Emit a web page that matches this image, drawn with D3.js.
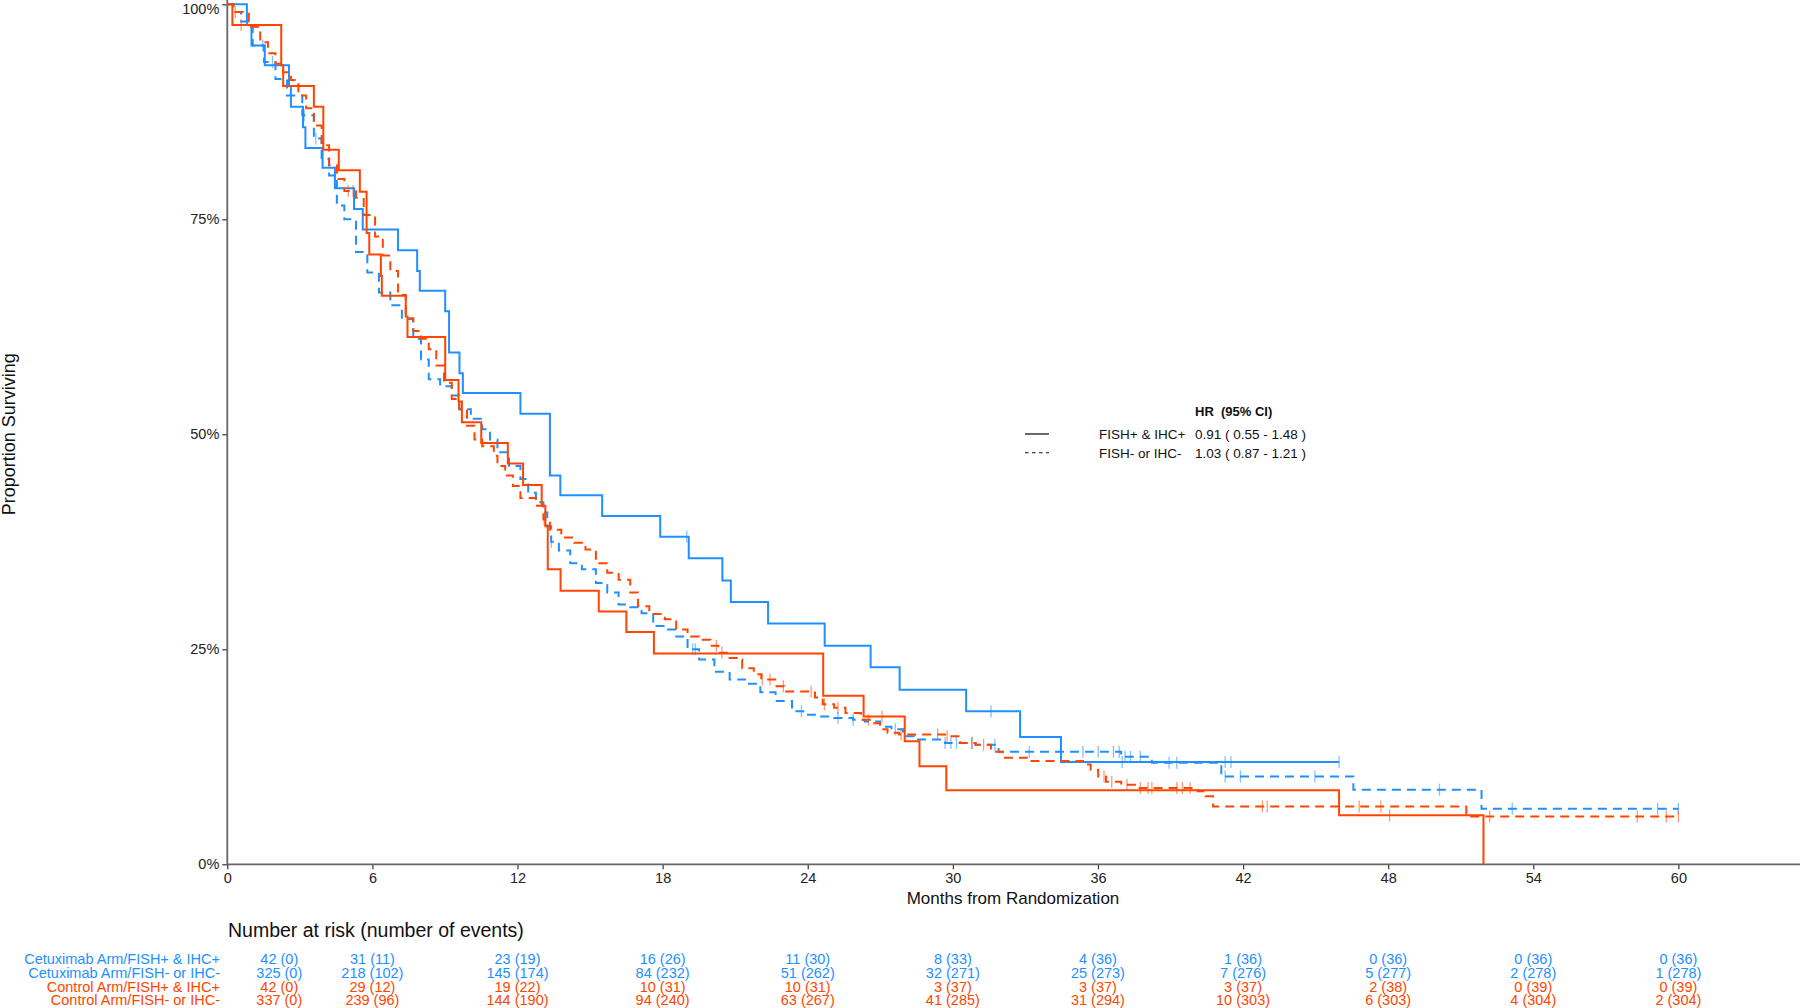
<!DOCTYPE html>
<html><head><meta charset="utf-8">
<script src="https://cdn.jsdelivr.net/npm/d3@7"></script>
<style>
html,body{margin:0;padding:0;background:#fff;}
svg text{font-family:"Liberation Sans",Arial,Helvetica,sans-serif;}
</style></head><body>
<svg id="chart" width="1800" height="1008"></svg>
<script>
// ---------- data ----------
const monthTicks = [0, 6, 12, 18, 24, 30, 36, 42, 48, 54, 60];
const survTicks = [0, 0.25, 0.5, 0.75, 1];
const groupLabels = ["Cetuximab Arm/FISH+ & IHC+", "Cetuximab Arm/FISH- or IHC-", "Control Arm/FISH+ & IHC+", "Control Arm/FISH- or IHC-"];
const legendLabels = ["FISH+ & IHC+", "FISH- or IHC-"];
const legendHR = ["0.91 ( 0.55 - 1.48 )", "1.03 ( 0.87 - 1.21 )"];
const legendTitle = "HR  (95% CI)";

// Cetuximab Arm / FISH+ & IHC+
const cetuxPosTime = [0, 0.81, 1.00, 1.55, 2.55, 2.63, 3.13, 3.23, 3.94, 4.45, 5.24, 5.60, 7.06, 7.85, 7.96, 9.01, 9.17, 9.6, 9.74, 12.12, 13.34, 13.77, 15.5, 17.9, 19.08, 20.47, 20.82, 22.36, 24.7, 26.6, 27.8, 30.55, 32.78, 34.47, 45.97];
const cetuxPosSurv = [1, .976, .952, .929, .905, .881, .857, .833, .810, .786, .762, .738, .714, .690, .667, .643, .595, .571, .548, .524, .452, .429, .405, .381, .356, .330, .305, .280, .254, .229, .203, .178, .148, .119, .119];
const cetuxPosCensor = [19.0, 31.58, 37.0, 41.26, 41.5, 45.97];

// Cetuximab Arm / FISH- or IHC-
const cetuxNegTime = [0, 0.25, 0.57, 1.05, 1.52, 1.99, 2.47, 3.10, 3.58, 3.90, 4.21, 4.53, 4.84, 5.32, 5.79, 6.27, 6.74, 7.22, 7.69, 8.01, 8.33, 8.80, 9.28, 9.59, 10.07, 10.54, 10.86, 11.17, 11.65, 12.12, 12.44, 12.76, 13.07, 13.23, 13.39, 13.71, 14.18, 14.66, 15.24, 15.71, 16.18, 16.66, 17.13, 17.61, 18.09, 18.56, 19.03, 19.51, 20.14, 20.77, 21.41, 22.04, 22.67, 23.35, 23.82, 24.30, 25.09, 25.88, 26.36, 26.99, 27.46, 27.94, 28.41, 29.68, 30.94, 31.89, 36.96, 38.23, 41.1, 46.56, 51.86, 60.0];
const cetuxNegSurv = [1, .991, .980, .952, .933, .913, .894, .871, .844, .820, .801, .766, .750, .712, .688, .665, .650, .634, .611, .587, .564, .556, .545, .529, .518, .506, .494, .479, .463, .448, .432, .421, .409, .393, .375, .365, .350, .343, .327, .316, .302, .299, .292, .277, .273, .265, .250, .238, .224, .215, .210, .200, .190, .178, .174, .172, .170, .168, .166, .160, .157, .149, .145, .141, .139, .131, .125, .118, .102, .0867, .0646, .0646];
const cetuxNegCensor = [1.47, 1.87, 3.18, 3.66, 13.4, 19.24, 19.35, 23.74, 25.25, 25.88, 27.62, 29.68, 29.92, 30.15, 30.79, 31.74, 33.16, 35.38, 36.01, 36.64, 36.88, 37.12, 37.35, 37.75, 38.94, 39.26, 41.26, 41.89, 44.97, 50.12, 53.13, 59.14, 60.0];

// Control Arm / FISH+ & IHC+
const ctrlPosTime = [0, 0.21, 2.23, 2.31, 3.58, 3.97, 4.61, 5.48, 5.76, 5.87, 6.35, 6.39, 7.38, 7.45, 9.01, 9.56, 9.70, 10.50, 11.60, 12.23, 13.0, 13.15, 13.25, 13.78, 15.36, 16.5, 17.64, 24.64, 26.31, 28.01, 28.62, 29.73, 45.97, 51.94];
const ctrlPosSurv = [1, .976, .929, .905, .881, .831, .807, .782, .734, .709, .684, .661, .637, .613, .563, .538, .514, .490, .466, .441, .417, .393, .343, .318, .294, .270, .245, .196, .172, .143, .114, .086, .057, 0];
const ctrlPosCensor = [0.57, 27.07, 48.06];

// Control Arm / FISH- or IHC-
const ctrlNegTime = [0, 0.25, 0.89, 1.36, 1.68, 1.99, 2.31, 2.63, 2.94, 3.26, 3.58, 3.90, 4.21, 4.53, 4.84, 5.32, 5.64, 6.11, 6.43, 6.74, 7.06, 7.38, 7.69, 8.01, 8.33, 8.64, 8.96, 9.28, 9.59, 9.91, 10.22, 10.54, 11.02, 11.17, 11.49, 11.81, 12.12, 12.76, 13.07, 13.34, 13.81, 14.34, 14.81, 15.24, 15.71, 16.18, 16.66, 16.98, 17.45, 18.09, 18.56, 19.03, 19.51, 19.98, 20.30, 20.77, 21.13, 21.29, 21.77, 22.08, 22.71, 23.03, 24.30, 24.62, 25.09, 25.56, 26.20, 26.67, 26.99, 27.30, 27.78, 29.68, 30.31, 30.94, 31.58, 32.05, 33.16, 35.38, 35.70, 36.01, 36.33, 36.96, 37.59, 40.12, 40.44, 40.76, 51.23, 60.0];
const ctrlNegSurv = [1, .991, .974, .956, .943, .931, .921, .912, .894, .879, .859, .836, .813, .797, .783, .775, .755, .730, .708, .690, .662, .635, .620, .611, .599, .580, .560, .541, .529, .510, .494, .486, .475, .463, .452, .440, .426, .417, .401, .389, .380, .374, .366, .350, .339, .331, .316, .300, .291, .285, .273, .265, .261, .254, .246, .240, .238, .228, .221, .215, .207, .201, .194, .186, .182, .176, .168, .164, .157, .153, .151, .149, .141, .139, .131, .124, .120, .116, .110, .102, .096, .0926, .0887, .0848, .079, .0673, .0557, .0557];
const ctrlNegCensor = [0.33, 5.0, 5.2, 13.1, 20.22, 20.45, 22.12, 22.44, 22.99, 24.14, 24.69, 25.25, 26.51, 27.86, 29.37, 29.76, 30.79, 31.27, 36.25, 36.57, 37.20, 37.75, 38.07, 38.23, 39.26, 39.49, 39.81, 42.8, 43.0, 46.8, 47.7, 52.2, 58.3, 59.5, 60.0];

// Number at risk (number of events)
const cetuxPosAtRisk = [42, 31, 23, 16, 11, 8, 4, 1, 0, 0, 0];
const cetuxPosEvents = [0, 11, 19, 26, 30, 33, 36, 36, 36, 36, 36];
const cetuxNegAtRisk = [325, 218, 145, 84, 51, 32, 25, 7, 5, 2, 1];
const cetuxNegEvents = [0, 102, 174, 232, 262, 271, 273, 276, 277, 278, 278];
const ctrlPosAtRisk = [42, 29, 19, 10, 10, 3, 3, 3, 2, 0, 0];
const ctrlPosEvents = [0, 12, 22, 31, 31, 37, 37, 37, 38, 39, 39];
const ctrlNegAtRisk = [337, 239, 144, 94, 63, 41, 31, 10, 6, 4, 2];
const ctrlNegEvents = [0, 96, 190, 240, 267, 285, 294, 303, 303, 304, 304];

// ---------- drawing ----------
const BLUE = "#1E90FF", RED = "#FF4500";
const series = [
  {time: cetuxPosTime, surv: cetuxPosSurv, cens: cetuxPosCensor, color: BLUE, dash: null},
  {time: cetuxNegTime, surv: cetuxNegSurv, cens: cetuxNegCensor, color: BLUE, dash: "9,6"},
  {time: ctrlPosTime, surv: ctrlPosSurv, cens: ctrlPosCensor, color: RED, dash: null},
  {time: ctrlNegTime, surv: ctrlNegSurv, cens: ctrlNegCensor, color: RED, dash: "9,6"}
];
const riskRows = [
  {at: cetuxPosAtRisk, ev: cetuxPosEvents, color: BLUE},
  {at: cetuxNegAtRisk, ev: cetuxNegEvents, color: BLUE},
  {at: ctrlPosAtRisk, ev: ctrlPosEvents, color: RED},
  {at: ctrlNegAtRisk, ev: ctrlNegEvents, color: RED}
];

const svg = d3.select("#chart");
const x = d3.scaleLinear().domain([0, 60]).range([227.3, 1678.4]);
const y = d3.scaleLinear().domain([0, 1]).range([864.3, 4.3]);

// axes
const yAxis = svg.append("g").attr("transform", `translate(${x(0)},0)`)
  .call(d3.axisLeft(y).tickValues(survTicks).tickFormat(d3.format(".0%")).tickSize(5).tickSizeOuter(0).tickPadding(3));
yAxis.select(".domain").remove();
yAxis.selectAll(".tick line").attr("stroke", "#333").attr("stroke-width", 1.2);
yAxis.selectAll("text").attr("font-size", 14.5).attr("fill", "#222")
  .attr("dy", d => d === 1 ? "0.66em" : "0.32em");
svg.append("line").attr("x1", x(0)).attr("x2", x(0)).attr("y1", 0).attr("y2", y(0))
  .attr("stroke", "#666").attr("stroke-width", 1.8);

const xAxis = svg.append("g").attr("transform", `translate(0,${y(0)})`)
  .call(d3.axisBottom(x).tickValues(monthTicks).tickSize(5).tickSizeOuter(0).tickPadding(3));
xAxis.select(".domain").remove();
xAxis.selectAll(".tick line").attr("stroke", "#333").attr("stroke-width", 1.2);
xAxis.selectAll("text").attr("font-size", 14.5).attr("fill", "#222");
svg.append("line").attr("x1", x(0)).attr("x2", 1800).attr("y1", y(0)).attr("y2", y(0))
  .attr("stroke", "#666").attr("stroke-width", 1.8);

// axis titles
svg.append("text").attr("transform", `translate(15,${y(0.5)}) rotate(-90)`)
  .attr("text-anchor", "middle").attr("font-size", 18).attr("fill", "#111").text("Proportion Surviving");
svg.append("text").attr("x", 1013).attr("y", 904).attr("text-anchor", "middle")
  .attr("font-size", 17).attr("fill", "#111").text("Months from Randomization");

// curves
const line = d3.line().x(d => x(d[0])).y(d => y(d[1])).curve(d3.curveStepAfter);
series.forEach(s => {
  const pts = s.time.map((t, i) => [t, s.surv[i]]);
  svg.append("path").datum(pts).attr("d", line)
    .attr("fill", "none").attr("stroke", s.color).attr("stroke-width", 2)
    .attr("stroke-dasharray", s.dash);
  const bis = d3.bisector(d => d).right;
  svg.append("g").selectAll("line").data(s.cens).join("line")
    .attr("x1", d => x(d)).attr("x2", d => x(d))
    .attr("y1", d => y(s.surv[Math.max(0, bis(s.time, d) - 1)]) - 6)
    .attr("y2", d => y(s.surv[Math.max(0, bis(s.time, d) - 1)]) + 6)
    .attr("stroke", s.color).attr("stroke-opacity", 0.55).attr("stroke-width", 1.3);
});

// legend
const lg = svg.append("g");
lg.append("text").attr("x", 1195).attr("y", 416).attr("font-size", 13).attr("font-weight", "bold")
  .attr("fill", "#111").style("white-space", "pre").text(legendTitle);
legendLabels.forEach((lab, i) => {
  const yy = 434 + i * 18.7;
  lg.append("line").attr("x1", 1025).attr("x2", 1049).attr("y1", yy).attr("y2", yy)
    .attr("stroke", i === 0 ? "#444" : "#111").attr("stroke-width", i === 0 ? 1.6 : 1.1)
    .attr("stroke-dasharray", i === 0 ? null : "3.5,3.5");
  lg.append("text").attr("x", 1099).attr("y", yy + 4.8).attr("font-size", 13.5).attr("fill", "#111").text(lab);
  lg.append("text").attr("x", 1195).attr("y", yy + 4.8).attr("font-size", 13.5).attr("fill", "#111").text(legendHR[i]);
});

// risk table
svg.append("text").attr("x", 228).attr("y", 937).attr("font-size", 19.5).attr("fill", "#111")
  .text("Number at risk (number of events)");
const firstColShift = 52;
riskRows.forEach((r, i) => {
  const by = 964 + i * 13.8;
  svg.append("text").attr("x", 220).attr("y", by).attr("text-anchor", "end")
    .attr("font-size", 14.5).attr("fill", r.color).text(groupLabels[i]);
  svg.append("g").selectAll("text").data(monthTicks).join("text")
    .attr("x", (m, j) => x(m) + (j === 0 ? firstColShift : 0)).attr("y", by)
    .attr("text-anchor", "middle").attr("font-size", 14.5).attr("fill", r.color)
    .text((m, j) => `${r.at[j]} (${r.ev[j]})`);
});
</script>
</body></html>
